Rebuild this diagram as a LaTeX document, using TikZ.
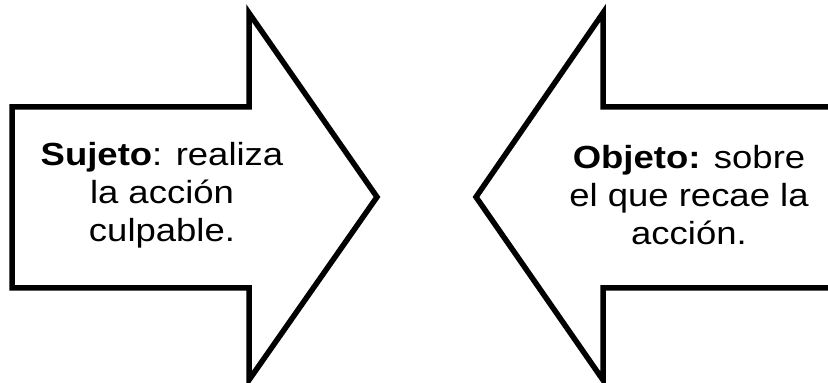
\documentclass[tikz,border=0pt]{standalone}
\usepackage{fontspec}
\setmainfont{Liberation Sans}
\usepackage{xcolor}
\usepackage{tikz}
\usetikzlibrary{positioning}
\definecolor{Ink}{HTML}{000000}
\tikzset{
  bigarrow/.style={draw=Ink, fill=white, line width=5.5pt, line join=miter},
  label/.style={color=Ink, align=center, font=\fontsize{32}{38}\selectfont,
    xscale=1.14, transform shape, inner sep=0pt},
}

\begin{document}
\begin{tikzpicture}[x=1pt, y=1pt]
  \useasboundingbox (0,0) rectangle (828,383);

  % Left arrow (pointing right)
  \draw[bigarrow] (12,95) -- (12,276) -- (249,276) -- (249,370)
    -- (377,186) -- (249,3) -- (249,95) -- cycle;

  % Right arrow (pointing left), body runs off the page
  \begin{scope}
    \clip (0,0) rectangle (828,383);
    \draw[bigarrow] (840,95) -- (603,95) -- (603,3)
      -- (476,186) -- (603,370) -- (603,276) -- (840,276);
  \end{scope}

  % Texts
  \node[label] (sujeto) at (162,188)
    {\textbf{Sujeto}: realiza\\la acción\\culpable.};
  \node[label] (objeto) at (689,188)
    {\textbf{Objeto:} sobre\\el que recae la\\acción.};
\end{tikzpicture}
\end{document}
